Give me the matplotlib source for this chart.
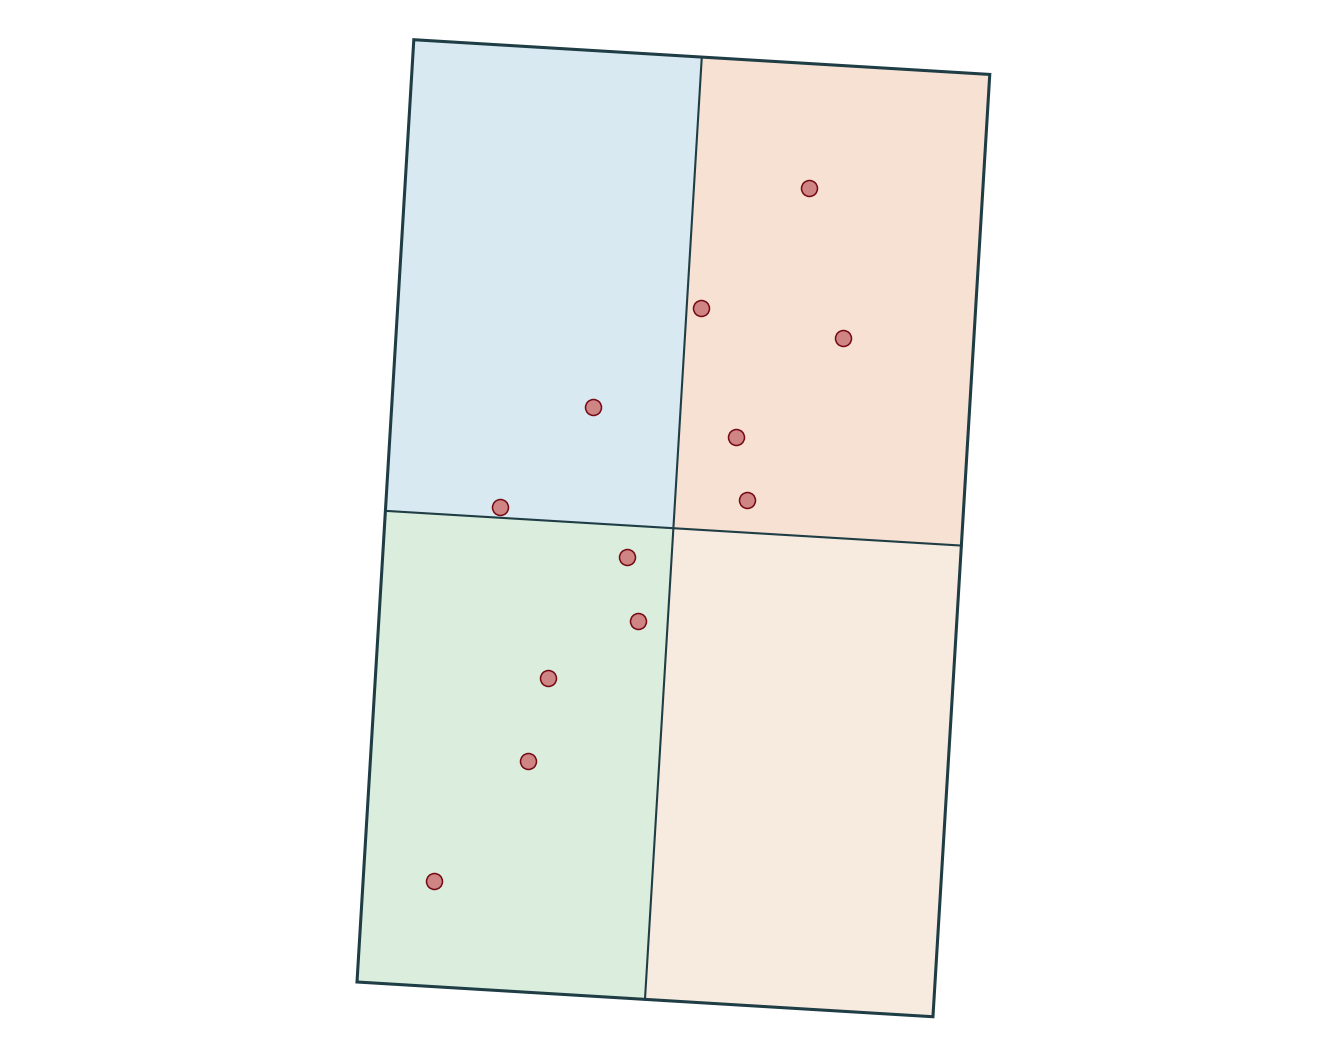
import numpy as np
import matplotlib
matplotlib.use("Agg")
import matplotlib.pyplot as plt
from matplotlib.patches import Rectangle
from matplotlib.transforms import Affine2D

# quadrant fills: top-left, top-right, bottom-left, bottom-right
quad_colors = ["#d9e9f2", "#f6e1d2", "#dbeedd", "#f7ebe0"]
quad_origins = [(0.0, 0.5), (0.5, 0.5), (0.0, 0.0), (0.5, 0.0)]

# points in the unrotated unit square
pt_x = [0.699, 0.525, 0.774, 0.348, 0.599, 0.625, 0.198, 0.423, 0.449, 0.299, 0.273, 0.123]
pt_y = [0.868, 0.735, 0.712, 0.623, 0.600, 0.535, 0.511, 0.467, 0.400, 0.334, 0.245, 0.112]

edge = "#1f3d45"

fig = plt.figure(figsize=(13.44, 10.56), dpi=100)
ax = fig.add_axes([0, 0, 1, 1])
ax.set_xlim(0, 1344)
ax.set_ylim(0, 1056)
ax.axis("off")

# unit square -> rotated rectangle in pixel space
tr = Affine2D().scale(577, 944).rotate_deg(-3.45).translate(357, 74) + ax.transData

for (x0, y0), c in zip(quad_origins, quad_colors):
    ax.add_patch(Rectangle((x0, y0), 0.5, 0.5, facecolor=c, edgecolor="none", transform=tr))

ax.plot([0.5, 0.5], [0, 1], color=edge, lw=1.5, transform=tr)
ax.plot([0, 1], [0.5, 0.5], color=edge, lw=1.5, transform=tr)
ax.add_patch(Rectangle((0, 0), 1, 1, facecolor="none", edgecolor=edge, lw=2.2, transform=tr, zorder=3))

ax.plot(pt_x, pt_y, "o", ms=11.5, mfc="#d08585", mec="#760a14", mew=1.1, transform=tr, zorder=4)

fig.savefig("out.png", dpi=100)
